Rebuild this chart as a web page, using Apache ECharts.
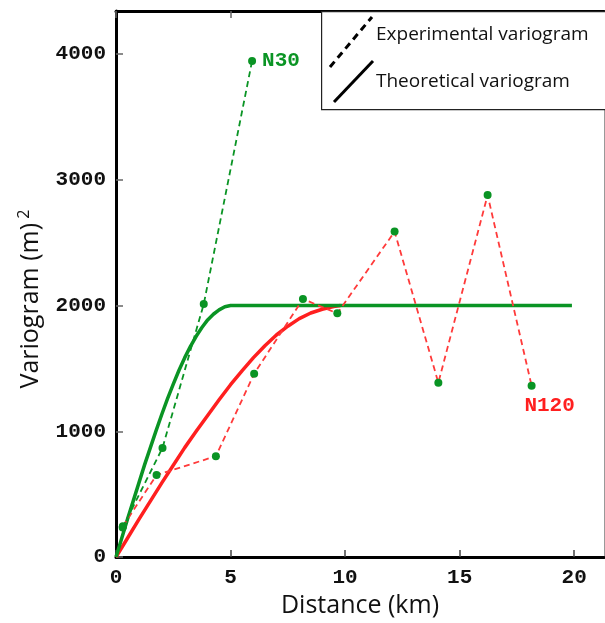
<!DOCTYPE html>
<html>
<head>
<meta charset="utf-8">
<script src="https://cdn.jsdelivr.net/npm/echarts@6/dist/echarts.min.js"></script>
<style>
html,body{margin:0;padding:0;background:#fff;}
#chart{width:605px;height:623px;}
</style>
</head>
<body>
<div id="chart"></div>
<script>
// ---- Data ----
const xTicks = [0, 5, 10, 15, 20];
const yTicks = [0, 1000, 2000, 3000, 4000];

// Experimental variogram N30 (green dashed)
const expN30 = [[0.29, 235], [2.03, 868], [3.83, 2011], [5.94, 3943]];
// Experimental variogram N120 (red dashed)
const expN120 = [[0.3, 245], [1.77, 652], [4.36, 802], [6.03, 1457], [8.16, 2051],
                 [9.66, 1937], [12.16, 2587], [14.07, 1386], [16.22, 2877], [18.14, 1362]];
// Theoretical variogram N30 (green solid)
const theoN30 = [[0, 0], [0.25, 150], [0.5, 300], [0.75, 445], [1, 590], [1.25, 735], [1.5, 870],
                 [1.75, 1005], [2, 1135], [2.25, 1260], [2.5, 1375], [2.75, 1485], [3, 1585],
                 [3.25, 1675], [3.5, 1755], [3.75, 1825], [4, 1885], [4.25, 1930], [4.5, 1965],
                 [4.75, 1990], [5, 2000], [19.9, 2000]];
// Theoretical variogram N120 (red solid)
const theoN120 = [[0, 0], [0.5, 150], [1, 300], [1.5, 445], [2, 590], [2.5, 730], [3, 870],
                  [3.5, 1000], [4, 1125], [4.5, 1250], [5, 1370], [5.5, 1480], [6, 1585],
                  [6.5, 1680], [7, 1765], [7.5, 1835], [8, 1895], [8.5, 1940], [9, 1970],
                  [9.5, 1992], [9.8, 2000]];

const labelN30 = 'N30';
const labelN120 = 'N120';
const legendExp = 'Experimental variogram';
const legendTheo = 'Theoretical variogram';

const GREEN = '#0a9424';
const RED = '#ff1f1f';
const RED_DASH = '#ff3a3a';
const MONO = '"Liberation Mono", "DejaVu Sans Mono", monospace';
const SANS = '"Open Sans", "DejaVu Sans", sans-serif';

const chart = echarts.init(document.getElementById('chart'), null, {renderer: 'canvas'});

const tickLabelStyle = {fontFamily: MONO, fontWeight: 'bold', fontSize: 21, color: '#111',
  formatter: v => String(v)};

const n120Data = expN120.map((p, i) => {
  if (i === expN120.length - 1) {
    return {value: p, label: {show: true, position: 'bottom', formatter: labelN120,
      offset: [18, 0], color: RED, fontFamily: MONO, fontWeight: 'bold', fontSize: 21}};
  }
  return p;
});

const option = {
  animation: false,
  backgroundColor: '#fff',
  grid: {left: 116, top: 11, right: 1, bottom: 64, containLabel: false},
  xAxis: [{
    type: 'value', min: 0, max: 21.3, position: 'bottom',
    axisLine: {show: true, onZero: false, lineStyle: {color: '#000', width: 3}},
    axisTick: {show: true, inside: true, length: 7, customValues: xTicks, lineStyle: {color: '#444', width: 1.5}},
    axisLabel: {show: true, customValues: xTicks, margin: 10, ...tickLabelStyle},
    splitLine: {show: false},
    name: 'Distance (km)', nameLocation: 'middle', nameGap: 34,
    nameTextStyle: {fontFamily: SANS, fontSize: 25, color: '#111'}
  }, {
    type: 'value', min: 0, max: 21.3, position: 'top',
    axisLine: {show: true, onZero: false, lineStyle: {color: '#000', width: 3}},
    axisTick: {show: true, inside: true, length: 7, customValues: xTicks, lineStyle: {color: '#666', width: 1.5}},
    axisLabel: {show: false},
    splitLine: {show: false}
  }],
  yAxis: [{
    type: 'value', min: 0, max: 4340, position: 'left',
    axisLine: {show: true, onZero: false, lineStyle: {color: '#000', width: 3}},
    axisTick: {show: true, inside: true, length: 7, customValues: yTicks, lineStyle: {color: '#666', width: 1.5}},
    axisLabel: {show: true, customValues: yTicks, margin: 10, ...tickLabelStyle},
    splitLine: {show: false},
    name: '{t|Variogram (m)}{s| 2}', nameLocation: 'middle', nameGap: 70, nameRotate: 90,
    nameTextStyle: {
      padding: [0, 30, 0, 0],
      rich: {
        t: {fontFamily: SANS, fontSize: 25, color: '#111'},
        s: {fontFamily: SANS, fontSize: 16, color: '#111', padding: [0, 0, 14, 0]}
      }
    }
  }, {
    type: 'value', min: 0, max: 4340, position: 'right',
    axisLine: {show: true, onZero: false, lineStyle: {color: '#999', width: 1}},
    axisTick: {show: false}, axisLabel: {show: false}, splitLine: {show: false}
  }],
  graphic: [
    {type: 'rect', left: 321, top: 11, z: 10,
     shape: {width: 290, height: 98},
     style: {fill: '#fff', stroke: '#222', lineWidth: 1.2}},
    {type: 'line', z: 11, shape: {x1: 330, y1: 67, x2: 372, y2: 17},
     style: {stroke: '#000', lineWidth: 3, lineDash: [7, 5]}},
    {type: 'line', z: 11, shape: {x1: 334, y1: 102, x2: 373, y2: 61},
     style: {stroke: '#000', lineWidth: 3}},
    {type: 'text', z: 11, left: 376, top: 25,
     style: {text: legendExp, font: '19px ' + SANS, fill: '#111'}},
    {type: 'text', z: 11, left: 376, top: 72,
     style: {text: legendTheo, font: '19px ' + SANS, fill: '#111'}}
  ],
  series: [
    {
      name: 'Theoretical N120', type: 'line', data: theoN120, showSymbol: false, symbol: 'none',
      lineStyle: {color: RED, width: 3.5, join: 'round'}, z: 2, silent: true
    },
    {
      name: 'Theoretical N30', type: 'line', data: theoN30, showSymbol: false, symbol: 'none',
      lineStyle: {color: GREEN, width: 3.5, join: 'round'}, z: 3, silent: true
    },
    {
      name: 'Experimental N120', type: 'line', data: n120Data, symbol: 'circle', symbolSize: 8,
      showAllSymbol: true,
      lineStyle: {color: RED_DASH, width: 1.8, type: [6, 4]},
      itemStyle: {color: GREEN, borderWidth: 0}, z: 4, silent: true
    },
    {
      name: 'Experimental N30', type: 'line', data: expN30, symbol: 'circle', symbolSize: 8,
      showAllSymbol: true,
      lineStyle: {color: GREEN, width: 1.8, type: [6, 4]},
      itemStyle: {color: GREEN, borderWidth: 0}, z: 5, silent: true,
      endLabel: {show: true, formatter: labelN30, distance: 10, color: GREEN,
        fontFamily: MONO, fontWeight: 'bold', fontSize: 21}
    }
  ]
};
chart.setOption(option);
</script>
</body>
</html>
